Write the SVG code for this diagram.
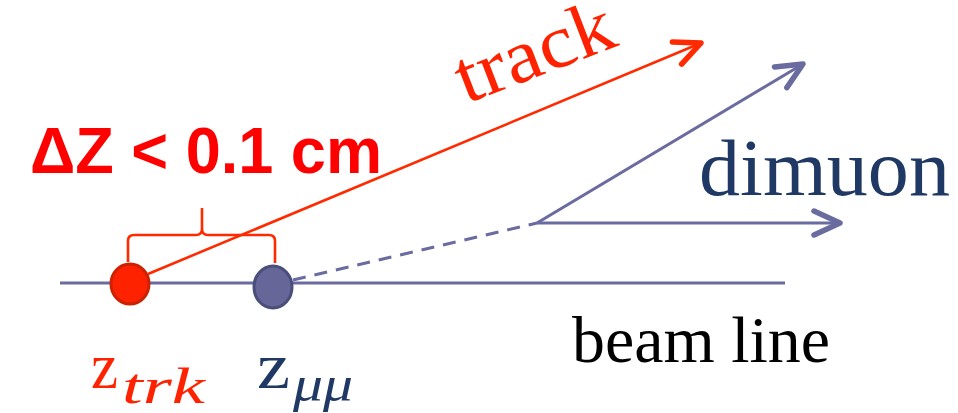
<svg xmlns="http://www.w3.org/2000/svg" width="958" height="413" viewBox="0 0 958 413">
<defs>
<style>
.blue{stroke:#6a6b9e;fill:none;stroke-width:3}
.red{stroke:#ff2a00;fill:none;stroke-width:2.6}
.serif{font-family:"Liberation Serif","DejaVu Serif",serif}
</style>
<marker id="ab" markerUnits="userSpaceOnUse" orient="auto" markerWidth="40" markerHeight="40" refX="0" refY="0" viewBox="-34 -20 40 40" overflow="visible">
<path d="M-26 -12 L0 0 L-26 12" fill="none" stroke="#6a6b9e" stroke-width="5.5" stroke-linecap="round" stroke-linejoin="round"/>
</marker>
<marker id="ar" markerUnits="userSpaceOnUse" orient="auto" markerWidth="40" markerHeight="40" refX="0" refY="0" viewBox="-34 -20 40 40" overflow="visible">
<path d="M-26 -12 L0 0 L-26 12" fill="none" stroke="#ff2a00" stroke-width="5.5" stroke-linecap="round" stroke-linejoin="round"/>
</marker>
</defs>
<rect width="958" height="413" fill="#ffffff"/>
<g id="connectors">
<line id="beam" class="blue" x1="60" y1="283" x2="785" y2="283"/>
<line id="dash" class="blue" x1="293" y1="280" x2="537" y2="223" stroke-dasharray="13,9"/>
<line id="mu1" class="blue" x1="537" y1="223" x2="803" y2="64" marker-end="url(#ab)"/>
<line id="mu2" class="blue" x1="537" y1="223" x2="840" y2="223" marker-end="url(#ab)"/>
<line id="trk" class="red" x1="148" y1="274" x2="701" y2="43" marker-end="url(#ar)"/>
<path id="brace" class="red" d="M128 262 V241 Q128 235 134 235 H196 Q202 235 202 229 V208 M202 229 Q202 235 208 235 H269 Q275 235 275 241 V263"/>
</g>
<g id="vtx-trk">
<ellipse cx="130" cy="284" rx="19" ry="20" fill="#ff2200" stroke="#cc2200" stroke-width="3"/>
</g>
<g id="vtx-mumu">
<ellipse cx="273" cy="287" rx="19" ry="21" fill="#666699" stroke="#4a4e7a" stroke-width="3"/>
</g>
<g id="labels">
<text x="30" y="173" font-family="'Liberation Sans',Arial,sans-serif" font-weight="bold" font-size="64" fill="#ff0000" textLength="352" lengthAdjust="spacingAndGlyphs">ΔZ &lt; 0.1 cm</text>
<text class="serif" transform="translate(466,104) rotate(-21)" font-size="76" fill="#ff2200" textLength="165" lengthAdjust="spacingAndGlyphs">track</text>
<text class="serif" x="699" y="195" font-size="80" fill="#1f3864" textLength="251" lengthAdjust="spacingAndGlyphs">dimuon</text>
<text class="serif" x="572" y="362" font-size="66" fill="#000000" textLength="258" lengthAdjust="spacingAndGlyphs">beam line</text>
<text class="serif" font-size="66" fill="#ff2200"><tspan x="91" y="388" textLength="27" lengthAdjust="spacingAndGlyphs">z</tspan><tspan x="122" y="403" font-style="italic" font-size="50" textLength="83" lengthAdjust="spacingAndGlyphs">trk</tspan></text>
<text class="serif" font-size="66" fill="#1f3864"><tspan x="257" y="388" textLength="33" lengthAdjust="spacingAndGlyphs">z</tspan><tspan x="293" y="401" font-style="italic" font-size="50" textLength="60" lengthAdjust="spacingAndGlyphs">μμ</tspan></text>
</g>
</svg>
